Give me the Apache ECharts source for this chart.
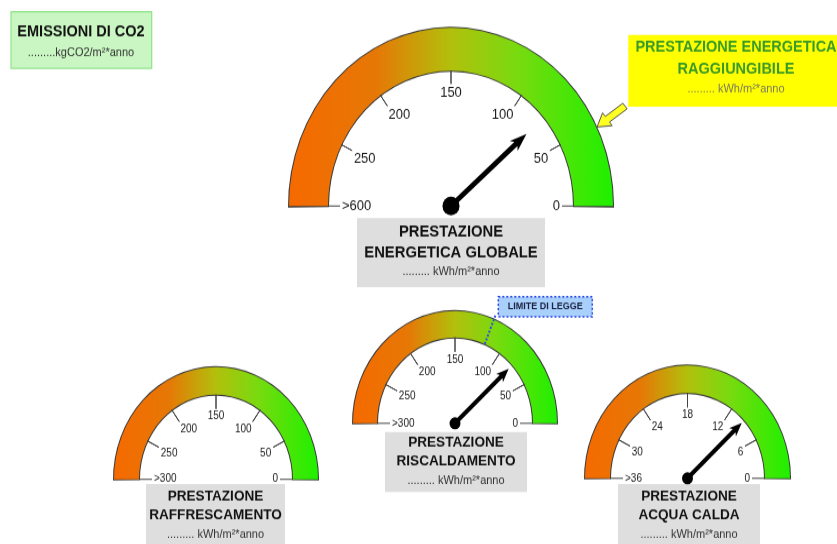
<!DOCTYPE html>
<html>
<head>
<meta charset="utf-8">
<script src="https://cdn.jsdelivr.net/npm/echarts@6/dist/echarts.min.js"></script>
<style>
html,body{margin:0;padding:0;background:#fff;overflow:hidden;}
#wrap{width:837px;height:544px;overflow:hidden;}
#chart{width:837px;height:495px;transform:scaleY(1.1);transform-origin:0 0;}
</style>
</head>
<body>
<div id="wrap"><div id="chart"></div></div>
<script>
// ---------------- data ----------------
const globalTicks  = ['0', '50', '100', '150', '200', '250', '>600'];
const coolingTicks = ['0', '50', '100', '150', '200', '250', '>300'];
const heatingTicks = ['0', '50', '100', '150', '200', '250', '>300'];
const waterTicks   = ['0', '6', '12', '18', '24', '30', '>36'];

const globalTickValues  = [0, 50, 100, 150, 200, 250, 300];
const coolingTickValues = [0, 50, 100, 150, 200, 250, 300];
const heatingTickValues = [0, 50, 100, 150, 200, 250, 300];
const waterTickValues   = [0, 6, 12, 18, 24, 30, 36];

const globalValue  = 75;
const coolingValue = null;   // no needle in the reference
const heatingValue = 78;
const waterValue   = 9.4;
const heatingLimit = 118;    // "LIMITE DI LEGGE"

// ---------------- layout helpers ----------------
const SY = 1.1;                 // the reference is stretched vertically
const Y = v => v / SY;
const FONT = '"Liberation Sans", Arial, sans-serif';
// angular position (deg, from the right end) of each tick on every dial
const TICK_ANGLES = [0, 27, 55, 90, 125, 153, 180];

const ARROW = 'path://M6 0 L12 17 L8.4 14 L8.4 100 L3.6 100 L3.6 14 L0 17 Z';
const DOTS = 'path://M0 0h2v2h-2z M0 4h2v2h-2z M0 8h2v2h-2z M0 12h2v2h-2z M0 16h2v2h-2z M0 20h2v2h-2z M0 24h2v2h-2z M0 28h2v2h-2z';

function arcGradient() {
  return new echarts.graphic.LinearGradient(0, 0, 1, 0, [
    { offset: 0, color: '#f66a00' },
    { offset: 0.27, color: '#e67806' },
    { offset: 0.5, color: '#b2c00c' },
    { offset: 0.7, color: '#7ada10' },
    { offset: 1, color: '#1ff000' }
  ]);
}

const HIDDEN = {
  axisTick: { show: false }, splitLine: { show: false }, axisLabel: { show: false },
  pointer: { show: false }, anchor: { show: false }, title: { show: false }, detail: { show: false }
};

function ring(center, R, W) {
  return Object.assign({}, HIDDEN, {
    type: 'gauge', center: center, radius: R + 1,
    startAngle: 180.5, endAngle: -0.5, min: 0, max: 1, splitNumber: 1,
    axisLine: { lineStyle: { width: W + 2, color: [[1, '#3a3a3a']] } },
    data: [{ value: 0 }], silent: true, z: 1
  });
}

function band(center, R, W) {
  return Object.assign({}, HIDDEN, {
    type: 'gauge', center: center, radius: R,
    startAngle: 0, endAngle: 180, clockwise: false, min: 0, max: 1, splitNumber: 1,
    axisLine: { lineStyle: { width: W, color: [[1, arcGradient()]] } },
    data: [{ value: 0 }], silent: true, z: 2
  });
}

function segIndex(values, v) {
  for (let i = 0; i < values.length - 1; i++) {
    if (v >= values[i] && v <= values[i + 1]) return i;
  }
  return values.length - 2;
}

// one gauge per scale segment, so each tick sits at its own angle
function scaleSegments(o) {
  const out = [];
  const n = o.values.length - 1;
  const has = o.value !== null && o.value !== undefined;
  const needleSeg = has ? segIndex(o.values, o.value) : -1;
  for (let i = 0; i < n; i++) {
    const lo = o.values[i], hi = o.values[i + 1];
    const last = i === n - 1;
    const withNeedle = i === needleSeg;
    out.push({
      type: 'gauge', center: o.center, radius: o.R,
      startAngle: TICK_ANGLES[i], endAngle: TICK_ANGLES[i + 1], clockwise: false,
      min: lo, max: hi, splitNumber: 1,
      axisLine: { show: true, lineStyle: { width: o.W, color: [[1, 'rgba(0,0,0,0)']] } },
      progress: { show: false }, axisTick: { show: false },
      splitLine: { show: true, distance: 0, length: o.tickLen, lineStyle: { color: '#444', width: 1 } },
      axisLabel: {
        show: true, distance: o.W + o.labDist, color: '#1a1a1a', fontSize: o.font, fontFamily: FONT,
        rich: { low: { padding: [o.lowPad, 0, 0, 0], fontSize: o.font, fontFamily: FONT, color: '#1a1a1a' } },
        formatter: function (v) {
          if (v === hi && !last) return '';
          const k = o.values.indexOf(v);
          const t = o.ticks[k];
          return (k === 1 || k === n - 1) ? '{low|' + t + '}' : t;
        }
      },
      pointer: { show: withNeedle, icon: ARROW, length: o.plen, width: o.pw, itemStyle: { color: '#000' } },
      anchor: { show: withNeedle, showAbove: true, size: o.anchor, itemStyle: { color: '#000' } },
      title: { show: false }, detail: { show: false },
      data: [{ value: withNeedle ? o.value : lo }],
      silent: true, z: withNeedle ? 5 : 3
    });
  }
  return out;
}

function limitMarker(o, value) {
  const i = segIndex(o.values, value);
  return Object.assign({}, HIDDEN, {
    type: 'gauge', center: o.center, radius: o.R,
    startAngle: TICK_ANGLES[i], endAngle: TICK_ANGLES[i + 1], clockwise: false,
    min: o.values[i], max: o.values[i + 1], splitNumber: 1,
    axisLine: { show: false },
    pointer: { show: true, icon: DOTS, length: o.W + 4, width: 2, offsetCenter: [0, -(o.R - o.W)], itemStyle: { color: '#2a48e8' } },
    data: [{ value: value }], silent: true, z: 4
  });
}

function rect(x1, y1, x2, y2, fill, stroke, extra) {
  return {
    type: 'rect', silent: true,
    shape: { x: x1, y: Y(y1), width: x2 - x1, height: Y(y2) - Y(y1) },
    style: Object.assign({ fill: fill, stroke: stroke || null, lineWidth: stroke ? 1.2 : 0 }, extra || {})
  };
}
function txt(x, y, text, size, weight, color) {
  return {
    type: 'text', silent: true, z: 10,
    style: {
      text: text, x: x, y: Y(y), align: 'center', verticalAlign: 'middle',
      fontSize: size, fontWeight: weight, fontFamily: FONT, fill: color
    }
  };
}

// gauge geometry (chart space)
const G = { center: [451, Y(206)], R: 162, W: 39, values: globalTickValues, ticks: globalTicks, value: globalValue, tickLen: 12, labDist: 2, font: 13, lowPad: 13, plen: 100, pw: 12, anchor: 17 };
const C = { center: [216, Y(479.3)], R: 102, W: 25, values: coolingTickValues, ticks: coolingTicks, value: coolingValue, tickLen: 13, labDist: 2, font: 10, lowPad: 9, plen: 73, pw: 10, anchor: 11 };
const H = { center: [455, Y(423.3)], R: 102, W: 24, values: heatingTickValues, ticks: heatingTicks, value: heatingValue, tickLen: 13, labDist: 2, font: 10, lowPad: 9, plen: 73, pw: 10, anchor: 11 };
const A = { center: [687.5, Y(478.3)], R: 102.5, W: 25, values: waterTickValues, ticks: waterTicks, value: waterValue, tickLen: 13, labDist: 2, font: 10, lowPad: 9, plen: 74, pw: 10, anchor: 11 };

let series = [];
[G, C, H, A].forEach(function (o) {
  series.push(ring(o.center, o.R, o.W));
  series.push(band(o.center, o.R, o.W));
  series = series.concat(scaleSegments(o));
});
series.push(limitMarker(H, heatingLimit));

// yellow arrow (ref coords)
const arrowPts = [[627.1,108.8],[609.5,122],[612.2,125.6],[597,127],[602.6,112.8],[605.3,116.4],[622.9,103.2]];

const unit = '......... kWh/m²*anno';
const graphic = [
  // CO2 box
  rect(11, 11.7, 151.7, 68.3, '#c9f6c2', '#8fe489'),
  txt(81, 31.7, 'EMISSIONI DI CO2', 14.5, 'bold', '#111'),
  txt(81, 52.3, '.........kgCO2/m²*anno', 11, 'normal', '#333'),
  // yellow box
  rect(628.3, 35, 850, 106.7, '#ffff00', null),
  txt(736, 47.3, 'PRESTAZIONE ENERGETICA', 14.5, 'bold', '#3a9a28'),
  txt(736, 69.3, 'RAGGIUNGIBILE', 14.5, 'bold', '#3a9a28'),
  txt(736, 89.3, unit, 11, 'normal', '#7a7a60'),
  {
    type: 'polygon', silent: true, z: 11,
    shape: { points: arrowPts.map(p => [p[0], Y(p[1])]) },
    style: { fill: '#ffff22', stroke: '#555', lineWidth: 1 }
  },
  // main gray box
  rect(357, 218, 545, 287, '#dedede', null),
  txt(451, 231.7, 'PRESTAZIONE', 14.8, 'bold', '#111'),
  txt(451, 252.7, 'ENERGETICA GLOBALE', 14.8, 'bold', '#111'),
  txt(451, 271.7, unit, 11, 'normal', '#333'),
  // heating box
  rect(385, 432, 527, 492, '#dedede', null),
  txt(456, 442.7, 'PRESTAZIONE', 13.6, 'bold', '#111'),
  txt(456, 461.7, 'RISCALDAMENTO', 13.6, 'bold', '#111'),
  txt(456, 480.7, unit, 11, 'normal', '#333'),
  // cooling box
  rect(146, 484, 285, 550, '#dedede', null),
  txt(215.5, 496, 'PRESTAZIONE', 13.6, 'bold', '#111'),
  txt(215.5, 515, 'RAFFRESCAMENTO', 13.6, 'bold', '#111'),
  txt(215.5, 534.3, unit, 11, 'normal', '#333'),
  // hot water box
  rect(618, 484, 760, 550, '#dedede', null),
  txt(689, 496, 'PRESTAZIONE', 13.6, 'bold', '#111'),
  txt(689, 515, 'ACQUA CALDA', 13.6, 'bold', '#111'),
  txt(689, 534.3, unit, 11, 'normal', '#333'),
  // legal limit label
  rect(498.3, 296.7, 592.3, 316.7, '#a9cffb', '#2a48e8', { lineDash: [2, 2], lineWidth: 1.5 }),
  txt(545.3, 306.7, 'LIMITE DI LEGGE', 9, 'bold', '#1a2240')
];

const chart = echarts.init(document.getElementById('chart'), null, { renderer: 'canvas' });
chart.setOption({
  animation: false,
  backgroundColor: '#ffffff',
  series: series,
  graphic: graphic
});
</script>
</body>
</html>
